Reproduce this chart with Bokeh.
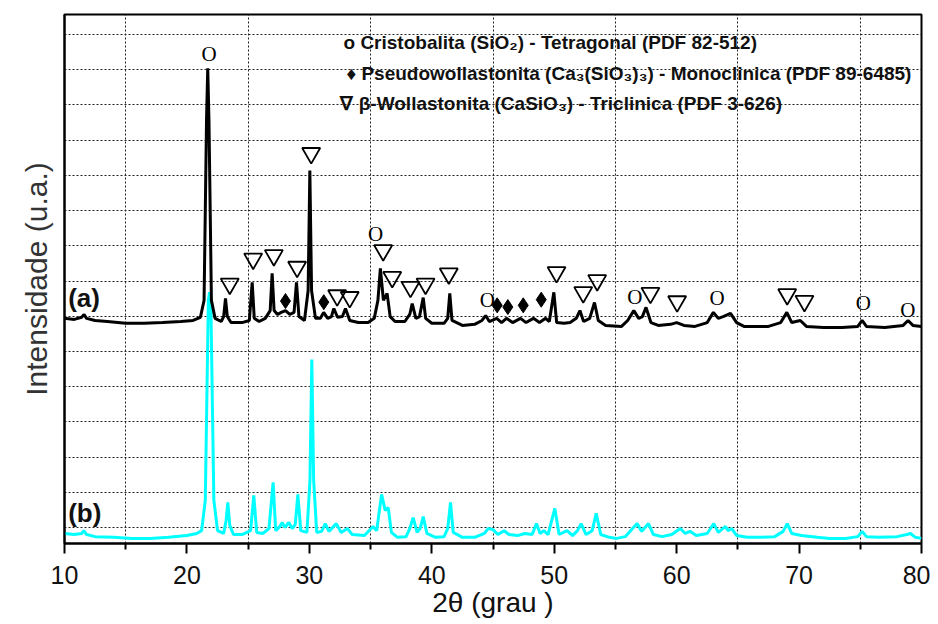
from bokeh.plotting import figure
from bokeh.models import Range1d, FixedTicker, Label, Title
from bokeh.core.properties import value
from bokeh.embed import file_html
from bokeh.resources import INLINE

# ---------------- data ----------------
two_theta_a = [10.0, 10.8, 11.4, 11.6, 11.8, 12.5, 13.5, 15, 16.5, 18, 19.5, 20.5, 21.1, 21.4, 21.6, 21.7, 21.8, 22.0,
               22.3, 22.8, 23.0, 23.15, 23.3, 23.6, 24.5, 25.1, 25.33, 25.5, 25.9, 26.4, 26.8, 26.96, 27.12, 27.4,
               27.7, 28.05, 28.4, 28.75, 28.95, 29.15, 29.6, 29.9, 30.04, 30.18, 30.5, 30.9, 31.17, 31.5, 31.8, 32.0,
               32.3, 32.7, 32.95, 33.3, 34.0, 34.8, 35.3, 35.6, 35.8, 36.05, 36.35, 36.6, 37.0, 37.8, 38.2, 38.4,
               38.7, 39.0, 39.3, 39.5, 40.0, 41.0, 41.3, 41.47, 41.65, 42.5, 43.5, 44.1, 44.4, 44.7, 45.3, 45.7,
               46.1, 46.6, 47.25, 47.7, 48.3, 48.8, 49.3, 49.6, 49.97, 50.2, 50.8, 51.3, 51.8, 52.1, 52.4, 52.9,
               53.29, 53.6, 54.2, 55.5, 56.0, 56.5, 56.9, 57.2, 57.5, 57.9, 58.5, 59.5, 60.0, 60.6, 61.5, 62.5,
               63.0, 63.4, 63.8, 64.4, 64.9, 65.5, 66.5, 67.5, 68.5, 69.0, 69.4, 70.1, 70.6, 72, 73.5, 74.8,
               75.15, 75.5, 77, 78.5, 78.9, 79.3, 80]
intens_a = [594, 591, 597, 605, 594, 588, 585, 580, 580, 582, 585, 588, 597, 645, 1156, 1304, 1156, 645,
            594, 585, 599, 651, 599, 582, 582, 588, 696, 594, 585, 594, 616, 722, 616, 605,
            611, 616, 605, 611, 696, 599, 588, 673, 1014, 673, 594, 594, 611, 594, 599, 622,
            597, 599, 622, 588, 582, 582, 594, 645, 736, 645, 665, 599, 585, 585, 605, 636,
            594, 599, 653, 594, 580, 580, 594, 665, 588, 574, 577, 588, 602, 585, 594, 582,
            594, 582, 594, 582, 594, 582, 594, 585, 668, 582, 580, 582, 594, 616, 585, 594,
            639, 588, 574, 571, 588, 616, 594, 599, 625, 582, 574, 577, 582, 574, 571, 582,
            611, 594, 599, 608, 582, 571, 571, 571, 582, 611, 582, 588, 571, 568, 568, 571,
            588, 571, 568, 574, 588, 574, 571]

two_theta_b = [10.0, 10.8, 11.4, 11.58, 11.8, 12.5, 14, 15.5, 17, 18.5, 20, 20.8, 21.2, 21.5, 21.75, 21.85, 21.95,
               22.2, 22.5, 23.0, 23.2, 23.34, 23.5, 23.8, 24.5, 25.2, 25.46, 25.7, 26.2, 26.7, 27.04, 27.25, 27.6,
               27.78, 28.0, 28.32, 28.6, 28.85, 29.06, 29.3, 29.8, 30.05, 30.2, 30.35, 30.6, 31.0, 31.3, 31.6, 32.2,
               32.6, 33.1, 33.5, 34.5, 35.2, 35.5, 35.9, 36.2, 36.44, 36.7, 37.2, 37.9, 38.2, 38.48, 38.8, 39.05,
               39.3, 39.6, 40.3, 41.0, 41.3, 41.53, 41.75, 42.5, 43.5, 44.3, 44.6, 45.0, 45.4, 45.9, 46.3, 47.0,
               47.6, 48.2, 48.55, 48.85, 49.15, 49.5, 50.05, 50.4, 51.05, 51.5, 51.9, 52.2, 52.6, 53.1, 53.43, 53.8,
               54.5, 55.1, 55.8, 56.4, 56.77, 57.15, 57.7, 58.1, 58.8, 59.6, 60.3, 60.7, 61.1, 61.6, 62.5, 63.03,
               63.4, 63.99, 64.2, 64.5, 64.9, 65.76, 66.8, 68.0, 68.7, 69.03, 69.4, 70.2, 71.5, 72.5, 73.8, 74.8,
               75.15, 75.5, 76.5, 78.0, 78.8, 79.1, 79.5, 80]
intens_b = [-17, -20, -17, -9, -20, -26, -28, -31, -31, -28, -23, -17, -9, 77, 645, 668, 645,
            77, -9, -17, 20, 71, 6, -20, -20, -9, 91, -14, -17, -3, 128, -9, 3,
            14, 0, 14, -3, 9, 94, -9, -14, 134, 477, 134, -14, -11, 11, -11, 11,
            -14, -3, -20, -23, 3, -9, 94, 48, 57, -14, -28, -26, -3, 28, -14, -3,
            31, -17, -28, -26, -3, 71, -14, -28, -28, -17, -3, -6, -20, -9, -20, -23,
            -17, -20, 11, -17, -9, -20, 54, -20, -9, -23, -9, 11, -20, -9, 40, -20,
            -28, -31, -26, -3, 11, -11, 11, -20, -26, -20, -3, -17, -11, -23, -17, 11,
            -14, 3, -9, -3, -23, -28, -28, -26, -11, 11, -17, -23, -28, -31, -31, -26,
            -11, -26, -28, -26, -20, -17, -28, -31]

# phase markers on curve (a)
cristobalita_x = [21.8, 35.4, 44.53, 56.58, 63.31, 75.24, 78.88]
cristobalita_y = [1345, 834, 647, 656, 653, 637, 618]
pseudo_x = [28.05, 31.18, 45.34, 46.21, 47.47, 48.94]
pseudo_y = [643, 640, 631, 626, 631, 647]
wolla_x = [23.5, 25.41, 27.1, 29.0, 30.15, 32.27, 33.3, 36.03, 36.77, 38.26, 39.49, 41.39,
           50.19, 52.37, 53.51, 57.86, 60.04, 69.03, 70.44]
wolla_y = [692, 763, 773, 740, 1063, 659, 654, 787, 711, 683, 692, 721,
           725, 668, 702, 666, 642, 662, 643]

x_ticks = [10, 20, 30, 40, 50, 60, 70, 80]
x_minor = [15, 25, 35, 45, 55, 65, 75]
y_grid = [0, 100, 200, 300, 400, 500, 600, 700, 800, 900, 1000, 1100, 1200, 1300, 1400]

legend_lines = [
    "o Cristobalita (SiO\u2082) - Tetragonal (PDF 82-512)",
    "\u2666 Pseudowollastonita (Ca\u2083(SiO\u2083)\u2083) - Monoclinica (PDF 89-6485)",
    "\u2207 \u03b2-Wollastonita (CaSiO\u2083) - Triclinica (PDF 3-626)",
]
y_title = "Intensidade (u.a.)"

# ---------------- figure ----------------
p = figure(width=930, height=622, output_backend="svg", toolbar_location=None,
           x_range=Range1d(10, 80), y_range=Range1d(-45.5, 1457),
           min_border_left=64, min_border_right=9, min_border_top=14, min_border_bottom=79)
p.background_fill_color = "white"
p.border_fill_color = "white"
p.outline_line_color = "black"
p.outline_line_width = 2

p.xgrid.ticker = FixedTicker(ticks=x_minor)
p.ygrid.ticker = FixedTicker(ticks=y_grid)
for g in (p.xgrid, p.ygrid):
    g.grid_line_color = "#222222"
    g.grid_line_dash = "2 2"
    g.grid_line_width = 1

xa = p.xaxis[0]
xa.ticker = FixedTicker(ticks=x_ticks, minor_ticks=x_minor)
xa.axis_line_width = 2
xa.axis_line_color = "black"
xa.major_tick_line_width = 2
xa.minor_tick_line_width = 2
xa.major_tick_out = 10
xa.major_tick_in = 0
xa.minor_tick_out = 6
xa.minor_tick_in = 0
xa.major_label_text_font = "Liberation Sans"
xa.major_label_text_font_size = "25px"
xa.major_label_text_color = "#111111"
xa.major_label_standoff = 12
xa.axis_label = "2\u03b8 (grau )"
xa.axis_label_text_font = "Liberation Sans"
xa.axis_label_text_font_size = "28px"
xa.axis_label_text_font_style = "normal"
xa.axis_label_text_color = "#111111"
xa.axis_label_standoff = 0

ya = p.yaxis[0]
ya.ticker = FixedTicker(ticks=[])
ya.axis_line_width = 2
ya.axis_line_color = "black"
ya.major_tick_out = 0
ya.minor_tick_out = 0
ya.major_tick_in = 0
ya.minor_tick_in = 0

# y title as a left-side title, shifted down a little
p.add_layout(Title(text=y_title, align="center", offset=24, standoff=24,
                   text_font="Liberation Sans", text_font_size="30px",
                   text_font_style="normal", text_color="#333333"), "left")

# curves
p.line(two_theta_b, intens_b, line_color="#00FFFF", line_width=3)
p.line(two_theta_a, intens_a, line_color="black", line_width=3)

# phase markers
p.text(x=cristobalita_x, y=cristobalita_y, text=["O"] * len(cristobalita_x),
       text_font=value("Liberation Serif"), text_font_size="21px",
       text_align="center", text_baseline="middle", text_color="black")
p.scatter(x=pseudo_x, y=pseudo_y, marker="diamond", size=15,
          fill_color="black", line_color="black")
p.scatter(x=wolla_x, y=wolla_y, marker="inverted_triangle", size=18,
          fill_color=None, line_color="black", line_width=1.8)

# legend texts
leg_x = [32.79, 33.03, 32.54]
leg_y = [1378, 1290, 1205]
for t, lx, ly in zip(legend_lines, leg_x, leg_y):
    p.add_layout(Label(x=lx, y=ly, text=t, text_font="Liberation Sans", text_font_size="19px",
                       text_font_style="bold", text_baseline="middle", text_align="left",
                       text_color="#111111"))

p.add_layout(Label(x=10.3, y=651, text="(a)", text_font="Liberation Sans", text_font_size="26px",
                   text_font_style="bold", text_baseline="middle", text_color="#111111"))
p.add_layout(Label(x=10.3, y=40, text="(b)", text_font="Liberation Sans", text_font_size="26px",
                   text_font_style="bold", text_baseline="middle", text_color="#111111"))

open("out.html", "w").write(file_html(p, INLINE))
